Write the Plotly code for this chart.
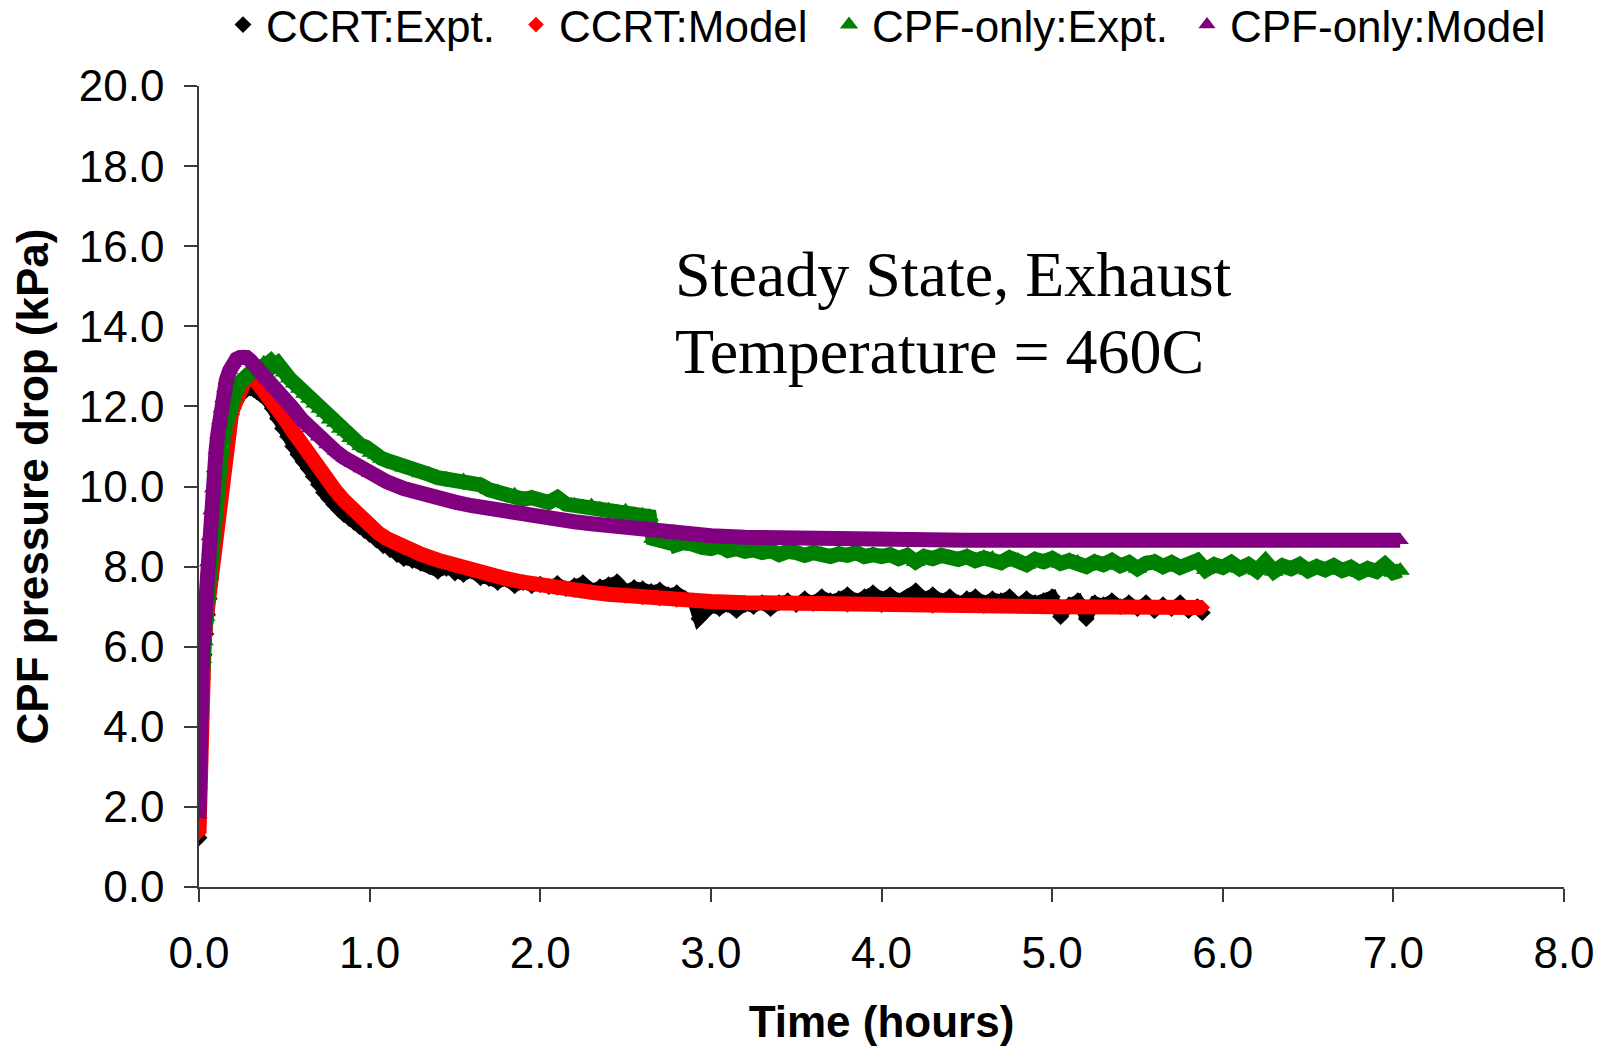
import plotly.graph_objects as go

# ---------------- data ----------------
ccrt_expt_t = [0.000, 0.002, 0.005, 0.012, 0.020, 0.030, 0.040, 0.050, 0.060, 0.070, 0.080, 0.090, 0.100, 0.110,
               0.120, 0.130, 0.140, 0.150, 0.160, 0.170, 0.180, 0.190, 0.200, 0.220, 0.240, 0.260, 0.280, 0.300,
               0.320, 0.340, 0.360, 0.380, 0.400, 0.430, 0.460, 0.490, 0.520, 0.550, 0.580, 0.610, 0.640, 0.670,
               0.700, 0.730, 0.760, 0.790, 0.820, 0.850, 0.880, 0.910, 0.940, 0.970, 1.000, 1.040, 1.080, 1.120,
               1.160, 1.200, 1.250, 1.300, 1.350, 1.400, 1.450, 1.500, 1.550, 1.600, 1.650, 1.700, 1.750, 1.800,
               1.850, 1.900, 1.950, 2.000, 2.050, 2.100, 2.150, 2.200, 2.250, 2.300, 2.350, 2.400, 2.450, 2.500,
               2.550, 2.600, 2.650, 2.700, 2.750, 2.800, 2.850, 2.900, 2.930, 2.960, 3.000, 3.050, 3.100, 3.150,
               3.200, 3.250, 3.300, 3.350, 3.400, 3.450, 3.500, 3.550, 3.600, 3.650, 3.700, 3.750, 3.800, 3.850,
               3.900, 3.950, 4.000, 4.050, 4.100, 4.150, 4.200, 4.250, 4.300, 4.350, 4.400, 4.450, 4.500, 4.550,
               4.600, 4.650, 4.700, 4.750, 4.800, 4.850, 4.900, 4.950, 5.000, 5.050, 5.100, 5.150, 5.200, 5.250,
               5.300, 5.350, 5.400, 5.450, 5.500, 5.550, 5.600, 5.650, 5.700, 5.750, 5.800, 5.850, 5.880]
ccrt_expt_v = [1.23, 2.46, 3.20, 4.31, 5.20, 5.80, 6.32, 6.80, 7.20, 7.70, 8.15, 8.55, 8.95, 9.35,
               9.75, 10.15, 10.50, 10.80, 11.10, 11.35, 11.60, 11.80, 11.95, 12.15, 12.30, 12.35, 12.42, 12.46,
               12.42, 12.36, 12.30, 12.24, 12.15, 11.95, 11.70, 11.45, 11.25, 11.00, 10.80, 10.62, 10.45, 10.25,
               10.05, 9.85, 9.70, 9.55, 9.42, 9.30, 9.20, 9.10, 9.00, 8.90, 8.80, 8.66, 8.52, 8.42,
               8.30, 8.20, 8.15, 8.08, 8.00, 7.88, 7.96, 7.84, 7.80, 7.88, 7.72, 7.70, 7.60, 7.68,
               7.52, 7.60, 7.52, 7.56, 7.50, 7.58, 7.45, 7.52, 7.60, 7.42, 7.50, 7.55, 7.62, 7.40,
               7.48, 7.45, 7.38, 7.42, 7.30, 7.35, 7.20, 7.10, 6.70, 6.85, 7.00, 6.95, 7.05, 6.90,
               7.05, 7.00, 7.10, 6.95, 7.10, 7.15, 7.05, 7.20, 7.10, 7.25, 7.15, 7.20, 7.30, 7.15,
               7.25, 7.35, 7.20, 7.30, 7.15, 7.25, 7.40, 7.20, 7.30, 7.15, 7.25, 7.10, 7.20, 7.25,
               7.10, 7.20, 7.15, 7.25, 7.05, 7.20, 7.10, 7.15, 7.25, 6.75, 7.05, 7.15, 6.70, 7.10,
               7.05, 7.15, 7.00, 7.10, 6.95, 7.10, 6.90, 7.05, 6.95, 7.10, 6.90, 7.00, 6.85]

ccrt_model_t = [0.000, 0.005, 0.012, 0.020, 0.030, 0.040, 0.050, 0.060, 0.070, 0.080, 0.090, 0.100, 0.110, 0.120,
                0.130, 0.140, 0.150, 0.160, 0.170, 0.180, 0.190, 0.200, 0.220, 0.240, 0.260, 0.280, 0.300, 0.320,
                0.340, 0.360, 0.400, 0.450, 0.500, 0.550, 0.600, 0.650, 0.700, 0.750, 0.800, 0.850, 0.900, 0.950,
                1.000, 1.050, 1.100, 1.150, 1.200, 1.300, 1.400, 1.500, 1.600, 1.700, 1.800, 1.900, 2.000, 2.100,
                2.200, 2.300, 2.400, 2.500, 2.600, 2.700, 2.800, 2.900, 3.000, 3.200, 3.400, 3.600, 3.800, 4.000,
                4.300, 4.600, 5.000, 5.400, 5.880]
ccrt_model_v = [1.36, 3.28, 4.93, 5.50, 6.10, 6.60, 7.00, 7.40, 7.85, 8.25, 8.65, 9.05, 9.45, 9.80,
                10.15, 10.50, 10.85, 11.15, 11.40, 11.60, 11.80, 11.95, 12.20, 12.40, 12.55, 12.65, 12.70, 12.68,
                12.60, 12.50, 12.28, 12.00, 11.70, 11.38, 11.05, 10.74, 10.45, 10.17, 9.90, 9.65, 9.42, 9.20,
                9.00, 8.84, 8.70, 8.58, 8.48, 8.31, 8.16, 8.03, 7.91, 7.80, 7.70, 7.61, 7.53, 7.47,
                7.41, 7.36, 7.31, 7.27, 7.23, 7.20, 7.17, 7.15, 7.13, 7.10, 7.08, 7.06, 7.04, 7.03,
                7.02, 7.01, 7.00, 6.99, 6.98]

cpf_expt_t = [0.000, 0.002, 0.006, 0.012, 0.020, 0.030, 0.040, 0.050, 0.060, 0.070, 0.080, 0.090, 0.100, 0.110,
              0.120, 0.130, 0.140, 0.150, 0.160, 0.170, 0.180, 0.200, 0.220, 0.240, 0.260, 0.280, 0.300, 0.320,
              0.340, 0.360, 0.380, 0.400, 0.420, 0.440, 0.460, 0.480, 0.500, 0.530, 0.560, 0.590, 0.620, 0.650,
              0.680, 0.710, 0.740, 0.770, 0.800, 0.830, 0.860, 0.890, 0.920, 0.950, 0.980, 1.010, 1.040, 1.070,
              1.100, 1.150, 1.200, 1.250, 1.300, 1.350, 1.400, 1.450, 1.500, 1.550, 1.600, 1.650, 1.700, 1.750,
              1.800, 1.850, 1.900, 1.950, 2.000, 2.050, 2.100, 2.150, 2.200, 2.250, 2.300, 2.350, 2.400, 2.450,
              2.500, 2.550, 2.600, 2.640, 2.660, 2.700, 2.750, 2.780, 2.800, 2.850, 2.900, 2.950, 3.000, 3.050,
              3.100, 3.150, 3.200, 3.250, 3.300, 3.350, 3.400, 3.450, 3.500, 3.550, 3.600, 3.650, 3.700, 3.750,
              3.800, 3.850, 3.900, 3.950, 4.000, 4.050, 4.100, 4.150, 4.200, 4.250, 4.300, 4.350, 4.400, 4.450,
              4.500, 4.550, 4.600, 4.650, 4.700, 4.750, 4.800, 4.850, 4.900, 4.950, 5.000, 5.050, 5.100, 5.150,
              5.200, 5.250, 5.300, 5.350, 5.400, 5.450, 5.500, 5.550, 5.600, 5.650, 5.700, 5.750, 5.800, 5.850,
              5.900, 5.950, 6.000, 6.050, 6.100, 6.150, 6.200, 6.250, 6.300, 6.350, 6.400, 6.450, 6.500, 6.550,
              6.600, 6.650, 6.700, 6.750, 6.800, 6.850, 6.900, 6.950, 7.000, 7.040]
cpf_expt_v = [3.24, 3.64, 4.71, 5.33, 5.70, 6.14, 6.75, 7.30, 7.85, 8.40, 8.85, 9.30, 9.70, 10.15,
              10.55, 10.90, 11.20, 11.45, 11.65, 11.85, 12.00, 12.25, 12.45, 12.60, 12.70, 12.80, 12.88, 12.92,
              13.00, 12.98, 13.08, 13.05, 13.12, 13.02, 13.08, 12.92, 12.85, 12.70, 12.58, 12.45, 12.32, 12.20,
              12.08, 11.95, 11.85, 11.68, 11.60, 11.45, 11.38, 11.22, 11.15, 11.02, 10.98, 10.85, 10.80, 10.70,
              10.65, 10.56, 10.48, 10.42, 10.34, 10.30, 10.22, 10.18, 10.10, 10.14, 10.02, 10.04, 9.92, 9.86,
              9.78, 9.78, 9.68, 9.72, 9.64, 9.60, 9.72, 9.56, 9.53, 9.49, 9.51, 9.43, 9.41, 9.36,
              9.38, 9.30, 9.28, 9.25, 8.70, 8.65, 8.60, 8.85, 8.55, 8.62, 8.50, 8.48, 8.45, 8.52,
              8.40, 8.45, 8.38, 8.42, 8.35, 8.40, 8.30, 8.38, 8.35, 8.28, 8.35, 8.30, 8.25, 8.32,
              8.28, 8.35, 8.25, 8.30, 8.25, 8.30, 8.20, 8.28, 8.12, 8.25, 8.20, 8.28, 8.22, 8.18,
              8.25, 8.15, 8.22, 8.20, 8.10, 8.22, 8.15, 8.05, 8.18, 8.12, 8.20, 8.08, 8.15, 8.10,
              8.00, 8.12, 8.05, 8.15, 8.02, 8.10, 7.95, 8.08, 8.12, 8.00, 8.10, 7.98, 8.05, 8.15,
              7.92, 8.05, 7.98, 8.10, 7.95, 8.05, 7.90, 8.12, 7.88, 8.02, 7.95, 8.05, 7.90, 8.00,
              7.92, 8.02, 7.90, 7.98, 7.85, 7.95, 7.88, 8.05, 7.85, 7.90]

cpf_model_t = [0.000, 0.003, 0.010, 0.020, 0.030, 0.040, 0.050, 0.060, 0.070, 0.080, 0.090, 0.100, 0.110, 0.120,
               0.130, 0.140, 0.150, 0.160, 0.180, 0.200, 0.220, 0.240, 0.260, 0.280, 0.300, 0.330, 0.360, 0.400,
               0.440, 0.500, 0.550, 0.600, 0.650, 0.700, 0.750, 0.800, 0.850, 0.900, 0.950, 1.000, 1.100, 1.200,
               1.300, 1.400, 1.500, 1.600, 1.700, 1.800, 1.900, 2.000, 2.100, 2.200, 2.300, 2.400, 2.500, 2.600,
               2.700, 2.800, 2.900, 3.000, 3.200, 3.400, 3.600, 3.800, 4.000, 4.500, 5.000, 5.500, 6.000, 6.500,
               7.040]
cpf_model_v = [1.81, 4.31, 5.30, 5.83, 6.50, 7.39, 8.10, 8.75, 9.40, 9.95, 10.45, 10.90, 11.30, 11.65,
               11.95, 12.20, 12.45, 12.65, 12.90, 13.08, 13.18, 13.22, 13.24, 13.22, 13.15, 13.02, 12.86, 12.66,
               12.48, 12.20, 11.95, 11.68, 11.45, 11.24, 11.05, 10.88, 10.72, 10.58, 10.45, 10.33, 10.12, 9.95,
               9.81, 9.70, 9.61, 9.52, 9.44, 9.37, 9.30, 9.24, 9.18, 9.12, 9.07, 9.02, 8.97, 8.92,
               8.88, 8.84, 8.80, 8.77, 8.73, 8.71, 8.69, 8.68, 8.67, 8.66, 8.66, 8.66, 8.66, 8.66,
               8.66]

series_names = ["CCRT:Expt.", "CCRT:Model", "CPF-only:Expt.", "CPF-only:Model"]
series_colors = ["#000000", "#FF0000", "#008000", "#800080"]
series_symbols = ["diamond", "diamond", "triangle-up", "triangle-up"]

x_ticks = [0, 1, 2, 3, 4, 5, 6, 7, 8]
y_ticks = [0, 2, 4, 6, 8, 10, 12, 14, 16, 18, 20]

# ---------------- figure ----------------
SANS = "Liberation Sans, Arial, sans-serif"
SERIF = "Liberation Serif, Times New Roman, serif"
W, H = 1606, 1046

series = [(ccrt_expt_t, ccrt_expt_v), (ccrt_model_t, ccrt_model_v),
          (cpf_expt_t, cpf_expt_v), (cpf_model_t, cpf_model_v)]
line_widths = [12, 15, 15, 15]
marker_sizes = [13, 12, 17, 15]
legend_ids = ["legend", "legend2", "legend3", "legend4"]
legend_left_px = [220, 513, 826, 1184]

fig = go.Figure()
for (t, v), name, col, sym, lw, ms, lid in zip(series, series_names, series_colors, series_symbols,
                                                line_widths, marker_sizes, legend_ids):
    fig.add_trace(go.Scatter(x=t, y=v, mode="lines", line=dict(color=col, width=lw),
                             showlegend=False, hoverinfo="skip"))
    fig.add_trace(go.Scatter(x=t, y=v, mode="markers", name=name, legend=lid,
                             marker=dict(color=col, symbol=sym, size=ms, line=dict(width=0))))

axis_common = dict(showgrid=False, zeroline=False, showline=True, linecolor="#3a3a3a", linewidth=1.5,
                   ticks="outside", ticklen=13, tickwidth=1.5, tickcolor="#3a3a3a", automargin=False,
                   tickfont=dict(family=SANS, size=44, color="#000000"), tickformat=".1f")

fig.update_xaxes(range=[0, 8], tickvals=x_ticks, ticklabelstandoff=13,
                 title=dict(text="<b>Time (hours)</b>", font=dict(family=SANS, size=44, color="#000000"),
                            standoff=33),
                 **axis_common)
fig.update_yaxes(range=[0, 20], tickvals=y_ticks, ticklabelstandoff=11,
                 title=dict(text="<b>CPF pressure drop (kPa)</b>", font=dict(family=SANS, size=44, color="#000000"),
                            standoff=16),
                 **axis_common)

fig.add_annotation(text="Steady State, Exhaust", xref="paper", yref="paper", x=0.3473, y=0.7647,
                   xanchor="left", yanchor="middle", showarrow=False,
                   font=dict(family=SERIF, size=64, color="#000000"))
fig.add_annotation(text="Temperature = 460C", xref="paper", yref="paper", x=0.3473, y=0.6685,
                   xanchor="left", yanchor="middle", showarrow=False,
                   font=dict(family=SERIF, size=64, color="#000000"))

legend_style = dict(orientation="h", xref="container", yref="container", y=1 - 25 / H,
                    xanchor="left", yanchor="middle",
                    font=dict(family=SANS, size=44, color="#000000"), bgcolor="rgba(0,0,0,0)",
                    itemwidth=36)
layout_legends = {lid: dict(x=px / W, **legend_style) for lid, px in zip(legend_ids, legend_left_px)}

fig.update_layout(
    width=W, height=H, autosize=False,
    margin=dict(l=199, r=42, t=86, b=159, pad=0, autoexpand=False),
    paper_bgcolor="white", plot_bgcolor="white",
    font=dict(family=SANS, color="#000000"),
    **layout_legends,
)

fig.write_html("out.html")
